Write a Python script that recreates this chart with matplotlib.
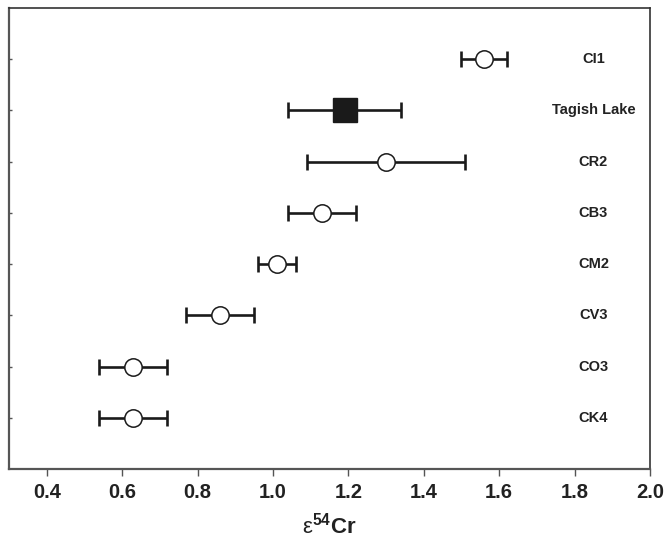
import matplotlib
matplotlib.use("Agg")
import matplotlib.pyplot as plt

plt.rcParams['font.family'] = ['Liberation Sans', 'DejaVu Sans']
plt.rcParams['mathtext.fontset'] = 'custom'
plt.rcParams['mathtext.rm'] = 'Liberation Sans'
plt.rcParams['mathtext.bf'] = 'Liberation Sans:bold'
plt.rcParams['mathtext.it'] = 'Liberation Sans:italic'

groups = ['CK4', 'CO3', 'CV3', 'CM2', 'CB3', 'CR2', 'Tagish Lake', 'CI1']
values = [0.63, 0.63, 0.86, 1.01, 1.13, 1.30, 1.19, 1.56]
lower = [0.54, 0.54, 0.77, 0.96, 1.04, 1.09, 1.04, 1.50]
upper = [0.72, 0.72, 0.95, 1.06, 1.22, 1.51, 1.34, 1.62]
xticks = [0.4, 0.6, 0.8, 1.0, 1.2, 1.4, 1.6, 1.8, 2.0]

fig = plt.figure(figsize=(6.66, 5.4), dpi=100)
ax = fig.add_axes([9/666, 1-469/540, (650-9)/666, (469-8)/540])

ypos = list(range(1, len(groups) + 1))
for y, g, v, lo, hi in zip(ypos, groups, values, lower, upper):
    filled = (g == 'Tagish Lake')
    ax.errorbar([v], [y], xerr=[[v - lo], [hi - v]], fmt='none',
                ecolor='#1a1a1a', elinewidth=1.9, capsize=5.5, capthick=1.9, zorder=2)
    if filled:
        ax.plot([v], [y], marker='s', markersize=17, markerfacecolor='#1a1a1a',
                markeredgecolor='#1a1a1a', linestyle='none', zorder=3)
    else:
        ax.plot([v], [y], marker='o', markersize=12.5, markerfacecolor='white',
                markeredgecolor='#1a1a1a', markeredgewidth=1.1, linestyle='none', zorder=3)
    ax.text(1.85, y, g, ha='center', va='center', fontsize=10.5,
            fontweight='bold', color='#222222')

ax.set_xlim(0.3, 2.0)
ax.set_ylim(0, 9)
ax.set_xticks(xticks)
ax.set_xticklabels([f'{t:.1f}' for t in xticks], fontsize=14.5, fontweight='bold',
                   color='#222222')
ax.set_yticks(ypos)
ax.set_yticklabels([])
ax.tick_params(axis='x', direction='out', length=5, width=1, color='#555555', pad=5)
ax.tick_params(axis='y', direction='in', length=2.5, width=1, color='#555555')

for side in ['left', 'bottom']:
    ax.spines[side].set_linewidth(1.6)
    ax.spines[side].set_color('#555555')
for side in ['top', 'right']:
    ax.spines[side].set_linewidth(1.2)
    ax.spines[side].set_color('#333333')

ax.set_xlabel(r'$\mathrm{ε}^{\mathbf{54}}$Cr', fontsize=16, fontweight='bold',
              color='#222222', labelpad=8)

fig.savefig('out.png', dpi=100)
